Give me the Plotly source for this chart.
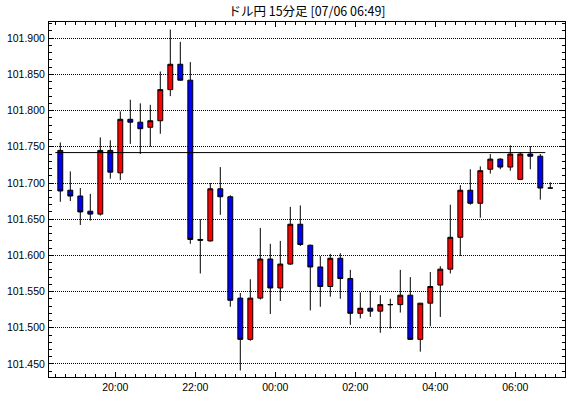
import plotly.graph_objects as go

title_text = "ドル円 15分足 [07/06 06:49]"

times = [
    "2016-07-05 18:30", "2016-07-05 18:45", "2016-07-05 19:00", "2016-07-05 19:15",
    "2016-07-05 19:30", "2016-07-05 19:45", "2016-07-05 20:00", "2016-07-05 20:15",
    "2016-07-05 20:30", "2016-07-05 20:45", "2016-07-05 21:00", "2016-07-05 21:15",
    "2016-07-05 21:30", "2016-07-05 21:45", "2016-07-05 22:00", "2016-07-05 22:15",
    "2016-07-05 22:30", "2016-07-05 22:45", "2016-07-05 23:00", "2016-07-05 23:15",
    "2016-07-05 23:30", "2016-07-05 23:45", "2016-07-06 00:00", "2016-07-06 00:15",
    "2016-07-06 00:30", "2016-07-06 00:45", "2016-07-06 01:00", "2016-07-06 01:15",
    "2016-07-06 01:30", "2016-07-06 01:45", "2016-07-06 02:00", "2016-07-06 02:15",
    "2016-07-06 02:30", "2016-07-06 02:45", "2016-07-06 03:00", "2016-07-06 03:15",
    "2016-07-06 03:30", "2016-07-06 03:45", "2016-07-06 04:00", "2016-07-06 04:15",
    "2016-07-06 04:30", "2016-07-06 04:45", "2016-07-06 05:00", "2016-07-06 05:15",
    "2016-07-06 05:30", "2016-07-06 05:45", "2016-07-06 06:00", "2016-07-06 06:15",
    "2016-07-06 06:30", "2016-07-06 06:45",
]

open_ = [
    101.745, 101.690, 101.682, 101.661, 101.657, 101.745, 101.714, 101.788, 101.784, 101.777,
    101.786, 101.829, 101.864, 101.842, 101.622, 101.620, 101.692, 101.681, 101.541, 101.484,
    101.541, 101.595, 101.555, 101.588, 101.643, 101.614, 101.584, 101.557, 101.596, 101.568,
    101.520, 101.527, 101.523, 101.532, 101.532, 101.545, 101.484, 101.534, 101.559, 101.581,
    101.625, 101.690, 101.672, 101.719, 101.733, 101.722, 101.705, 101.740, 101.737, 101.693,
]
high = [
    101.756, 101.716, 101.693, 101.685, 101.763, 101.759, 101.799, 101.815, 101.810, 101.808,
    101.854, 101.912, 101.895, 101.867, 101.650, 101.700, 101.722, 101.683, 101.548, 101.567,
    101.638, 101.616, 101.620, 101.667, 101.669, 101.615, 101.599, 101.602, 101.603, 101.580,
    101.549, 101.551, 101.545, 101.540, 101.580, 101.570, 101.534, 101.577, 101.585, 101.670,
    101.697, 101.719, 101.723, 101.740, 101.734, 101.752, 101.742, 101.751, 101.740, 101.701,
]
low = [
    101.674, 101.675, 101.642, 101.648, 101.655, 101.706, 101.704, 101.754, 101.740, 101.750,
    101.768, 101.820, 101.841, 101.616, 101.575, 101.619, 101.656, 101.529, 101.441, 101.482,
    101.539, 101.519, 101.537, 101.587, 101.613, 101.524, 101.529, 101.543, 101.540, 101.504,
    101.513, 101.515, 101.493, 101.499, 101.521, 101.483, 101.467, 101.502, 101.515, 101.575,
    101.599, 101.670, 101.652, 101.713, 101.719, 101.717, 101.704, 101.719, 101.677, 101.693,
]
close = [
    101.689, 101.682, 101.660, 101.657, 101.745, 101.715, 101.788, 101.784, 101.775, 101.786,
    101.829, 101.864, 101.842, 101.622, 101.621, 101.692, 101.681, 101.538, 101.484, 101.541,
    101.595, 101.555, 101.588, 101.643, 101.615, 101.584, 101.557, 101.596, 101.568, 101.520,
    101.527, 101.523, 101.532, 101.532, 101.545, 101.484, 101.534, 101.557, 101.581, 101.625,
    101.690, 101.672, 101.717, 101.733, 101.722, 101.740, 101.740, 101.737, 101.693, 101.693,
]

ref_level = 101.742

y_ticks = [101.450, 101.500, 101.550, 101.600, 101.650, 101.700, 101.750, 101.800, 101.850, 101.900]
x_ticks = ["2016-07-05 20:00", "2016-07-05 22:00", "2016-07-06 00:00",
           "2016-07-06 02:00", "2016-07-06 04:00", "2016-07-06 06:00"]
x_tick_labels = ["20:00", "22:00", "00:00", "02:00", "04:00", "06:00"]

fig = go.Figure()
fig.add_trace(go.Candlestick(
    x=times, open=open_, high=high, low=low, close=close,
    xperiod=15 * 60 * 1000, xperiodalignment="middle",
    increasing=dict(fillcolor="#FF0000", line=dict(color="black", width=1)),
    decreasing=dict(fillcolor="#0000FF", line=dict(color="black", width=1)),
    whiskerwidth=0,
    showlegend=False,
))

fig.add_shape(type="line", xref="x", yref="y",
              x0=times[0], x1=times[-1], y0=ref_level, y1=ref_level,
              line=dict(color="black", width=1), layer="above")

tick_font = dict(family="Liberation Sans, Arial, sans-serif", size=10.5, color="black")

fig.update_layout(
    width=570, height=398,
    margin=dict(l=49, r=5, t=22, b=21, autoexpand=False),
    paper_bgcolor="white", plot_bgcolor="white",
    showlegend=False,
    title=dict(text=title_text, x=0.5, xref="paper", xanchor="center",
               y=(398 - 12) / 398, yref="container", yanchor="middle",
               font=dict(family="Noto Sans CJK JP, sans-serif", size=12.5, color="black"),
               automargin=False),
    xaxis=dict(
        type="date", automargin=False,
        range=["2016-07-05 18:20:33", "2016-07-06 07:14:33"],
        rangeslider=dict(visible=False),
        tickvals=x_ticks, ticktext=x_tick_labels,
        ticks="inside", ticklen=5, tickcolor="black", tickwidth=1,
        minor=dict(ticks="inside", ticklen=3, tickcolor="black", dtick=15 * 60 * 1000,
                   tick0="2016-07-05 18:00", showgrid=False),
        showgrid=False, zeroline=False,
        showline=True, linecolor="black", linewidth=1, mirror="ticks",
        tickfont=tick_font,
    ),
    yaxis=dict(
        range=[101.432, 101.9224], automargin=False,
        tickvals=y_ticks, tickformat=".3f",
        ticks="inside", ticklen=5, tickcolor="black", tickwidth=1,
        minor=dict(ticks="inside", ticklen=3, tickcolor="black", dtick=0.01,
                   tick0=101.45, showgrid=False),
        showgrid=True, gridcolor="black", gridwidth=1, griddash="1px,1px",
        zeroline=False,
        showline=True, linecolor="black", linewidth=1, mirror="ticks",
        tickfont=tick_font, ticklabelstandoff=1,
    ),
)

# remove the page's default 8px body margin so the figure fills the window
fig.write_html("out.html", config={"displayModeBar": False},
               post_script="document.body.style.margin='0';")
